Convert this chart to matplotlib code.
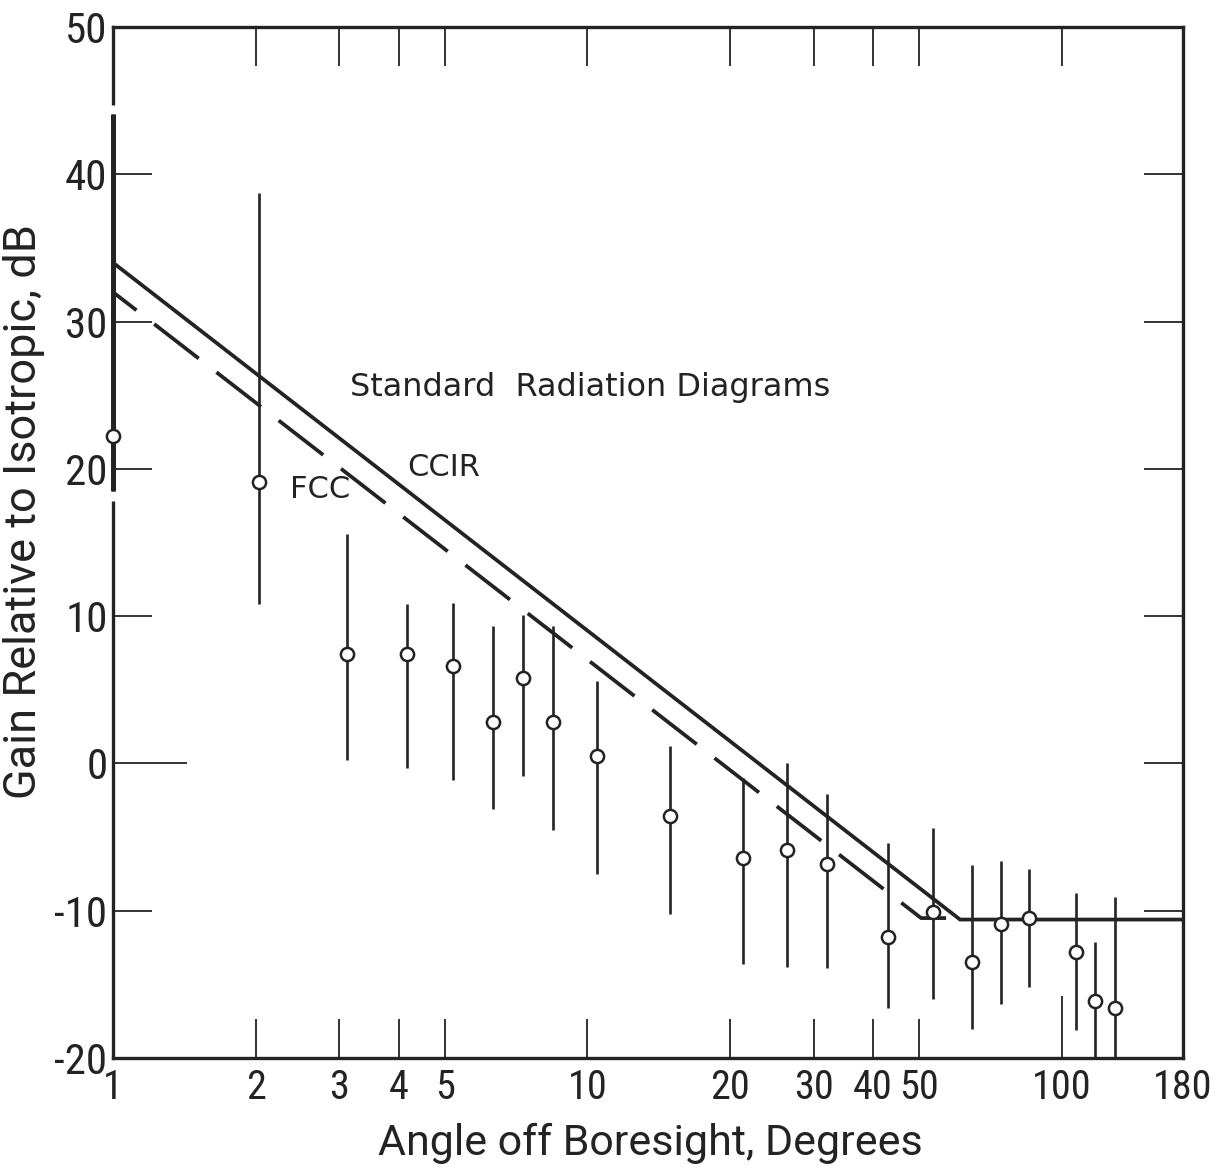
import matplotlib
matplotlib.use("Agg")
import matplotlib.pyplot as plt
from matplotlib.ticker import NullLocator

# measured antenna gains: angle off boresight (deg), mean gain and bar extent (dB)
angle = [1.0, 2.03, 3.11, 4.17, 5.22, 6.32, 7.31, 8.45, 10.5, 14.9, 21.3,
         26.4, 32.0, 43.1, 53.5, 64.8, 74.5, 85.3, 107.0, 117.5, 129.5]
gain = [22.2, 19.1, 7.4, 7.4, 6.6, 2.8, 5.8, 2.8, 0.5, -3.6, -6.4,
        -5.9, -6.8, -11.8, -10.1, -13.5, -10.9, -10.5, -12.8, -16.1, -16.6]
gain_hi = [44.1, 38.7, 15.6, 10.8, 10.9, 9.3, 10.1, 9.3, 5.6, 1.2, -1.0,
           0.0, -2.1, -5.4, -4.4, -6.9, -6.6, -7.2, -8.8, -12.1, -9.1]
gain_lo = [18.5, 10.8, 0.2, -0.3, -1.1, -3.1, -0.85, -4.5, -7.5, -10.2, -13.6,
           -13.8, -13.9, -16.6, -16.0, -18.0, -16.3, -15.2, -18.1, -20.0, -20.0]

# standard radiation diagrams (break points)
ccir_angle = [1, 61, 180]
ccir_gain = [34, -10.6, -10.6]
fcc_angle = [1, 50.5, 57]
fcc_gain = [32, -10.5, -10.5]

x_ticks = [1, 2, 3, 4, 5, 10, 20, 30, 40, 50, 100, 180]
y_ticks = [-20, -10, 0, 10, 20, 30, 40, 50]

INK = "#232323"
NARROW = ["Roboto Condensed", "DejaVu Sans"]
LABEL = ["Roboto", "DejaVu Sans"]

fig = plt.figure(figsize=(12.28, 11.73), dpi=100)
ax = fig.add_axes([113 / 1228, 115 / 1173, 1070 / 1228, 1031 / 1173])

ax.set_xscale("log")
ax.set_xlim(1, 180)
ax.set_ylim(-20, 50)
ax.set_xticks(x_ticks)
ax.set_xticklabels([str(t) for t in x_ticks])
ax.xaxis.set_minor_locator(NullLocator())
ax.set_yticks(y_ticks)
ax.set_yticklabels([str(t) for t in y_ticks])

# error bars, the first one sits on the left spine and is heavier
widths = [3.6] + [1.9] * (len(angle) - 1)
ax.vlines(angle, gain_lo, gain_hi, colors=INK, linewidths=widths,
          clip_on=False, zorder=4)
# little white breaks in the spine at both ends of that first bar
ax.plot([angle[0]] * 2, [gain_hi[0], gain_hi[0] + 0.6], color="white",
        lw=5, solid_capstyle="butt", clip_on=False, zorder=3)
ax.plot([angle[0]] * 2, [gain_lo[0] - 0.7, gain_lo[0]], color="white",
        lw=5, solid_capstyle="butt", clip_on=False, zorder=3)
ax.plot(angle, gain, "o", ms=9.5, mfc="white", mec=INK, mew=1.8,
        clip_on=False, zorder=5)

ax.plot(ccir_angle, ccir_gain, color=INK, lw=2.7, solid_joinstyle="miter",
        zorder=3)
# offset chosen so the last dash runs through the knee
ax.plot(fcc_angle, fcc_gain, color=INK, lw=2.7, ls=(7.1, (15, 6)),
        dash_joinstyle="miter", zorder=3)

ax.text(3.16, 25.5, "Standard  Radiation Diagrams", fontsize=23,
        color=INK, ha="left", va="center")
ax.text(4.17, 20.1, "CCIR", fontsize=22, color=INK, ha="left", va="center")
ax.text(2.36, 18.6, "FCC", fontsize=22, color=INK, ha="left", va="center")

for side in ax.spines.values():
    side.set_linewidth(2.4)
    side.set_color(INK)

ax.tick_params(which="major", direction="in", length=28, width=1.3,
               color=INK, top=True, right=True, labelcolor=INK)
ax.tick_params(axis="x", pad=7, labelsize=29)
ax.tick_params(axis="y", pad=4, labelsize=31)
for lab in ax.get_xticklabels() + ax.get_yticklabels():
    lab.set_family(NARROW)

# the 0 dB tick on the left and the 100 deg tick at the bottom are longer
ax.yaxis.get_major_ticks()[y_ticks.index(0)].tick1line.set_markersize(53)
ax.xaxis.get_major_ticks()[x_ticks.index(100)].tick1line.set_markersize(45)

ax.set_xlabel("Angle off Boresight, Degrees", fontsize=31, family=LABEL,
              color=INK)
ax.xaxis.set_label_coords(0.502, -0.063)
ax.set_ylabel("Gain Relative to Isotropic, dB", fontsize=32.5, family=LABEL,
              color=INK)
ax.yaxis.set_label_coords(-0.064, 0.53)

fig.savefig("out.png", dpi=100, facecolor="white")
